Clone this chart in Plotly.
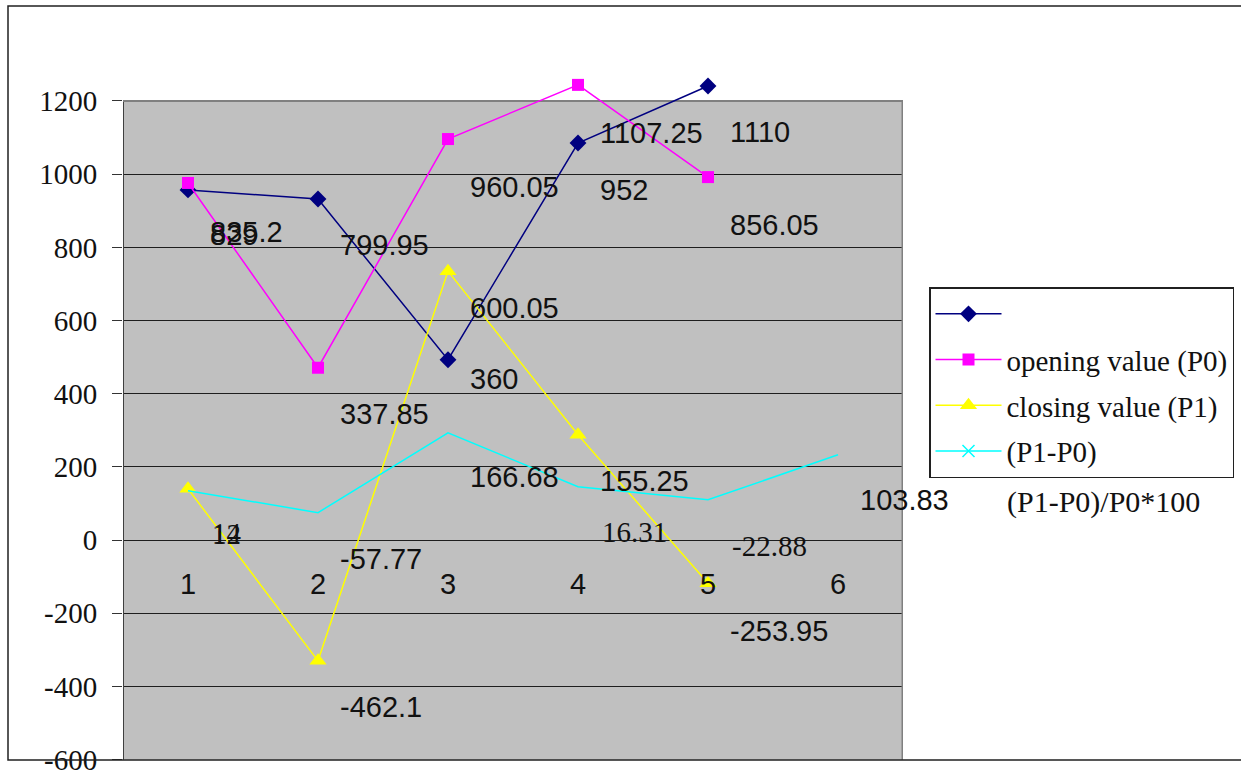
import plotly.graph_objects as go

# ---- chart data -----------------------------------------------------------
categories = [1, 2, 3, 4, 5, 6]

series_unnamed = [957, 932, 493, 1085, 1241]          # navy diamonds
opening_value_p0 = [976, 471, 1096, 1244, 992]        # magenta squares
closing_value_p1 = [140, -330, 735, 288, -118]        # yellow triangles
change_p1_p0 = [135, 75, 293, 146, 110, 233]          # cyan line

# table values shown as text labels beside each category
sans_label_text = ["835.2", "829", "799.95", "337.85", "-462.1", "-57.77",
                   "360", "960.05", "600.05", "166.68", "952", "1107.25",
                   "155.25", "1110", "856.05", "-253.95", "103.83"]
sans_label_cat = [1, 1, 2, 2, 2, 2, 3, 3, 3, 3, 4, 4, 4, 5, 5, 5, 6]
serif_label_text = ["12", "14", "16.31", "-22.88"]
serif_label_cat = [1, 1, 4, 5]

y_tick_values = [-600, -400, -200, 0, 200, 400, 600, 800, 1000, 1200]

# ---- geometry --------------------------------------------------------------
W, H = 1241, 774
L, R, T, B = 123, 903, 64, 760
PX_PER_UNIT = 659 / 1800.0
Y_MIN = -601
Y_MAX = -600 + (B - T) / PX_PER_UNIT


def paper_x(px):
    return (px - L) / (R - L)


def paper_y(py):
    return (B - py) / (B - T)


SERIF = "Liberation Serif"
SANS = "Liberation Sans"
FS = 29

fig = go.Figure()

fig.add_trace(go.Scatter(
    x=categories[:len(series_unnamed)], y=series_unnamed, name="",
    legendgroup="a", mode="lines+markers", cliponaxis=False,
    line=dict(color="#000080", width=1.5),
    marker=dict(symbol="diamond", size=13, color="#000080"),
))
fig.add_trace(go.Scatter(
    x=categories[:len(opening_value_p0)], y=opening_value_p0,
    name="opening value (P0)", legendgroup="p0",
    mode="lines+markers", cliponaxis=False,
    line=dict(color="#FF00FF", width=1.5),
    marker=dict(symbol="square", size=12, color="#FF00FF"),
))
fig.add_trace(go.Scatter(
    x=categories[:len(closing_value_p1)], y=closing_value_p1,
    name="closing value (P1)", legendgroup="p1",
    mode="lines+markers", cliponaxis=False,
    line=dict(color="#FFFF00", width=1.5),
    marker=dict(symbol="triangle-up", size=15, color="#FFFF00"),
))
fig.add_trace(go.Scatter(
    x=categories[:len(change_p1_p0)], y=change_p1_p0,
    name="(P1-P0)", mode="lines", showlegend=False, legendgroup="chg",
    line=dict(color="#00FFFF", width=1.5),
))
# legend entry for the cyan series (line with x marker)
fig.add_trace(go.Scatter(
    x=[None], y=[None], name="(P1-P0)", mode="lines+markers", legendgroup="chg",
    line=dict(color="#00FFFF", width=1.5),
    marker=dict(symbol="x-thin", size=12, line=dict(color="#00FFFF", width=1.5)),
))

annotations = []
label_yshift = {"360": 29, "600.05": 13}
for txt, cat in zip(sans_label_text, sans_label_cat):
    annotations.append(dict(
        x=cat, y=float(txt), xref="x", yref="y", text=txt, showarrow=False,
        xanchor="left", yanchor="middle", xshift=20,
        yshift=label_yshift.get(txt, 2),
        font=dict(family=SANS, size=FS, color="#111"),
    ))
for txt, cat in zip(serif_label_text, serif_label_cat):
    annotations.append(dict(
        x=cat, y=float(txt), xref="x", yref="y", text=txt, showarrow=False,
        xanchor="left", yanchor="middle", xshift=22, yshift=2,
        font=dict(family=SERIF, size=FS, color="#111"),
    ))
# fifth legend caption, printed below the legend box
annotations.append(dict(
    x=paper_x(1008), y=paper_y(502), xref="paper", yref="paper",
    text="(P1-P0)/P0*100", showarrow=False, xanchor="left", yanchor="middle",
    xshift=-3, font=dict(family=SERIF, size=30, color="#111"),
))

shapes = [
    # grey plot area
    dict(type="rect", xref="x", yref="y", x0=0.5, x1=6.5, y0=-600, y1=1200,
         fillcolor="#C0C0C0", line=dict(width=0), layer="below"),
    # plot area frame
    dict(type="line", xref="x", yref="y", x0=0.5, x1=0.5, y0=-600, y1=1200,
         line=dict(color="#404040", width=2), layer="between"),
    dict(type="line", xref="x", yref="y", x0=0.5, x1=6.5, y0=1200, y1=1200,
         line=dict(color="#808080", width=2), layer="between"),
    dict(type="line", xref="x", yref="y", x0=6.5, x1=6.5, y0=-600, y1=1200,
         line=dict(color="#808080", width=3), layer="between"),
    # outer chart border
    dict(type="rect", xref="paper", yref="paper",
         x0=paper_x(8), x1=paper_x(1260), y0=paper_y(760), y1=paper_y(6),
         line=dict(color="#202020", width=1.5), layer="above"),
]

fig.update_layout(
    width=W, height=H,
    margin=dict(l=L, r=W - R, t=T, b=H - B, pad=0, autoexpand=False),
    paper_bgcolor="white", plot_bgcolor="white",
    showlegend=True,
    legend=dict(
        x=paper_x(929), y=paper_y(287), xanchor="left", yanchor="top",
        bgcolor="white", bordercolor="#202020", borderwidth=1.5,
        font=dict(family=SERIF, size=FS, color="#111"),
        traceorder="grouped", tracegroupgap=5, itemwidth=66,
    ),
    annotations=annotations,
    shapes=shapes,
    xaxis=dict(
        range=[0.5, 6.5], tickvals=categories, ticktext=[str(c) for c in categories],
        showgrid=False, zeroline=False, showline=False, ticks="",
        anchor="free", position=(0 - Y_MIN) / (Y_MAX - Y_MIN),
        ticklabelstandoff=24, automargin=False,
        tickfont=dict(family=SANS, size=FS, color="#111"),
    ),
    yaxis=dict(
        range=[Y_MIN, Y_MAX], tickvals=y_tick_values,
        ticktext=[str(v) for v in y_tick_values],
        showgrid=True, gridcolor="#1e1e1e", gridwidth=1.2,
        zeroline=False, showline=False, automargin=False,
        ticks="outside", ticklen=10, tickcolor="#333", tickwidth=1,
        ticklabelstandoff=9, ticklabeloverflow="allow",
        tickfont=dict(family=SERIF, size=FS, color="#111"),
    ),
)

fig.write_html("out.html")
